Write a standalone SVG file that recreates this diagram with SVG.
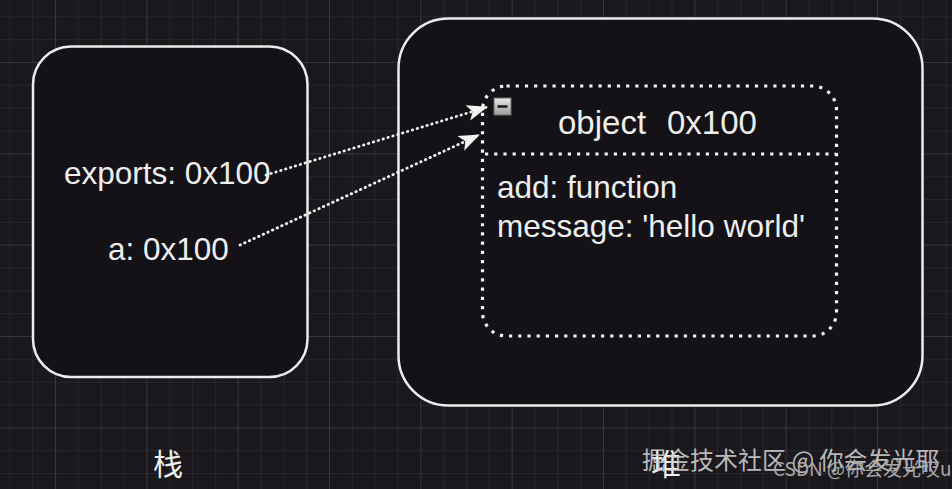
<svg xmlns="http://www.w3.org/2000/svg" width="952" height="489" viewBox="0 0 952 489">
  <defs>
    <style>
      .box { fill: #141217; stroke: #ececec; stroke-width: 2.5; }
      .lbl { font-family: "Liberation Sans", Arial, sans-serif; font-size: 31.5px; fill: #eeeeee; }
      .cjk { font-family: "Noto Sans CJK SC", sans-serif; }
      .ptr { fill: none; stroke: #f2f2f2; stroke-width: 2.8; stroke-linecap: round; stroke-dasharray: 0.5 4.6; }
      .dot { fill: none; stroke: #f4f4f4; stroke-width: 3.2; stroke-dasharray: 3.2 6; }
    </style>
    <pattern id="grid" x="55" y="62" width="91.33" height="91.33" patternUnits="userSpaceOnUse">
      <path d="M23.33 0V91.33M46.17 0V91.33M69 0V91.33M0 23.33H91.33M0 46.17H91.33M0 69H91.33" stroke="#28262c" stroke-width="1" fill="none"/>
      <path d="M0.5 0V91.33M0 0.5H91.33" stroke="#38363d" stroke-width="1" fill="none"/>
    </pattern>
    <marker id="arr" viewBox="0 0 22 18" refX="20" refY="9" markerWidth="22" markerHeight="18" orient="auto" markerUnits="userSpaceOnUse">
      <path d="M0,1 L21,9 L0,17 L5,9 Z" fill="#f4f4f4"/>
    </marker>
    <linearGradient id="btn" x1="0" y1="0" x2="0" y2="1">
      <stop offset="0" stop-color="#e8e8e8"/>
      <stop offset="1" stop-color="#9c9c9c"/>
    </linearGradient>
  </defs>

  <rect width="952" height="489" fill="#1a181d"/>
  <rect width="952" height="489" fill="url(#grid)"/>

  <g id="stack">
    <rect class="box" x="33" y="46.5" width="274.5" height="330.5" rx="38"/>
    <text class="lbl" x="64" y="184">exports: 0x100</text>
    <text class="lbl" x="108" y="260">a: 0x100</text>
  </g>

  <g id="heap">
    <rect class="box" x="398.5" y="18.5" width="524" height="387" rx="50"/>
  </g>

  <g id="object">
    <rect class="dot" x="482.5" y="86" width="354" height="250" rx="24"/>
    <line class="dot" x1="485" y1="154" x2="836" y2="154"/>
    <rect x="494" y="98" width="17" height="17" fill="url(#btn)" stroke="#6a6a6a" stroke-width="1"/>
    <rect x="497.5" y="105.2" width="10" height="2.6" fill="#1e1e1e"/>
    <text class="lbl" y="134" style="font-size:33px"><tspan x="558">object</tspan><tspan x="667">0x100</tspan></text>
    <text class="lbl" x="497" y="198">add: function</text>
    <text class="lbl" x="497" y="237">message: 'hello world'</text>
  </g>

  <g id="connectors">
    <line class="ptr" x1="266" y1="175" x2="487" y2="107" marker-end="url(#arr)"/>
    <line class="ptr" x1="240" y1="245" x2="479" y2="135" marker-end="url(#arr)"/>
  </g>

  <g id="labels">
    <text class="cjk" x="168" y="475" font-size="30" fill="#f0f0f0" text-anchor="middle">栈</text>
    <text class="cjk" x="666" y="475" font-size="30" fill="#f0f0f0" text-anchor="middle">堆</text>
    <text class="cjk" x="642" y="469" font-size="24" fill="#cfcfcf" fill-opacity="0.9">掘金技术社区 @ 你会发光耶</text>
    <text class="cjk" x="773" y="476" font-size="19" fill="#a8a8a8">CSDN @你会发光哎u</text>
  </g>
</svg>
